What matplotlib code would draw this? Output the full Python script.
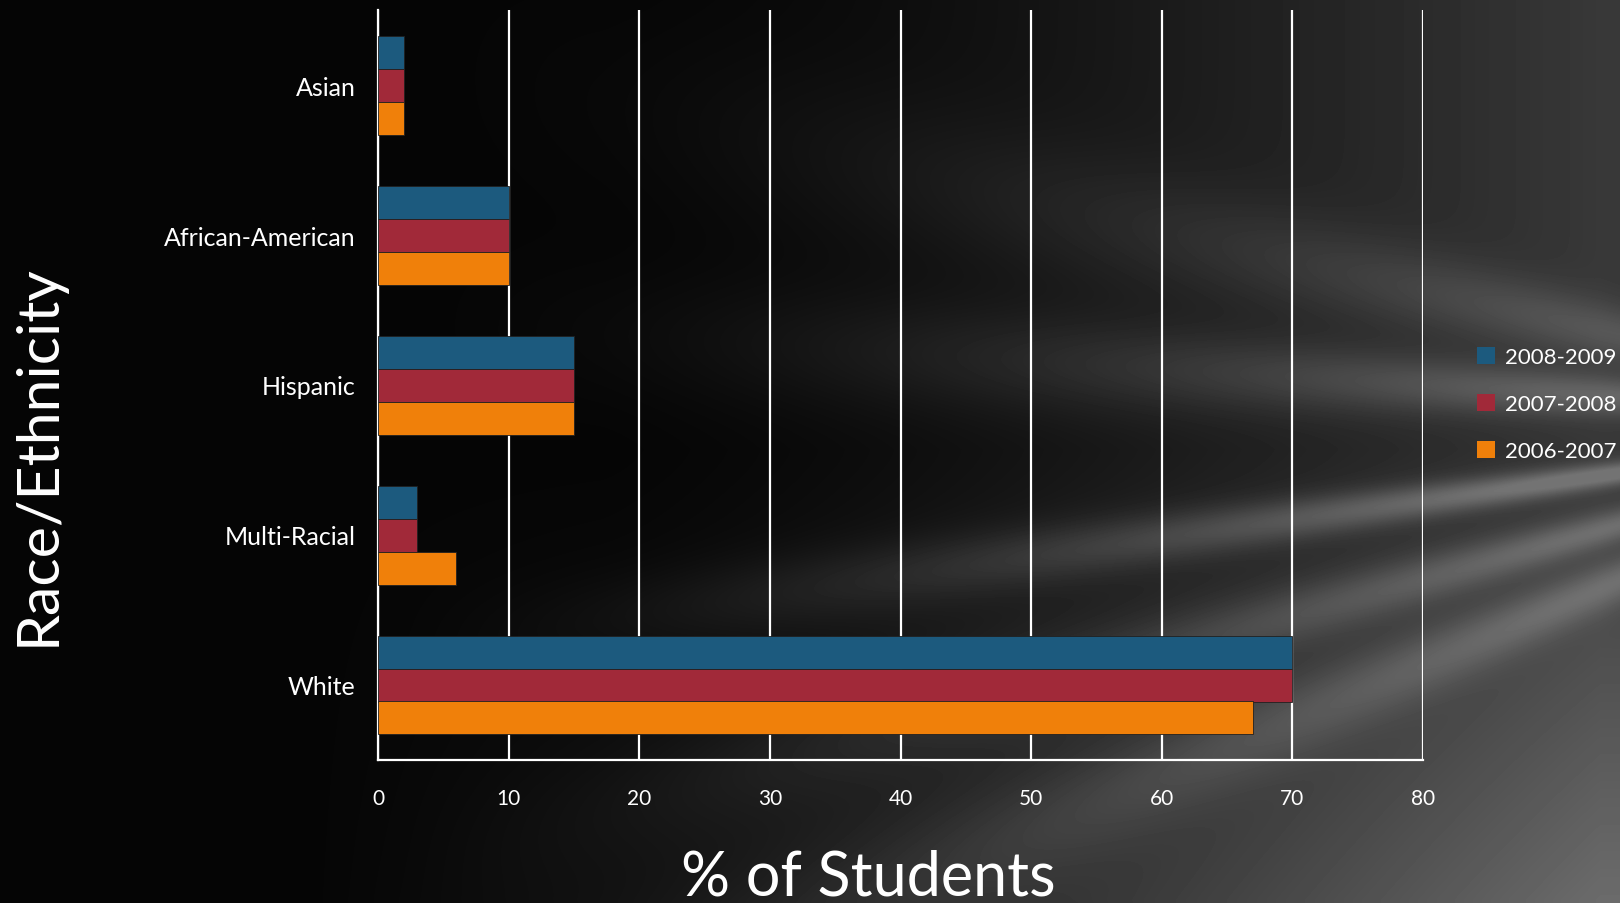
import numpy as np
import matplotlib
matplotlib.use("Agg")
import matplotlib.pyplot as plt

# data
categories = ["Asian", "African-American", "Hispanic", "Multi-Racial", "White"]
years = ["2008-2009", "2007-2008", "2006-2007"]
pct_2008_2009 = [2, 10, 15, 3, 70]
pct_2007_2008 = [2, 10, 15, 3, 70]
pct_2006_2007 = [2, 10, 15, 6, 67]
colors = ["#1c5a7e", "#a12939", "#f0800a"]
xticks = [0, 10, 20, 30, 40, 50, 60, 70, 80]

W, H = 1620, 904
fig = plt.figure(figsize=(W / 100, H / 100), dpi=100)

# dark background with light streaks fanning out from the right
yy, xx = np.mgrid[0:H, 0:W].astype(float)
base = np.clip((xx - 600) / 1000, 0, 1) ** 1.5 * 0.20 + np.clip((yy - 450) / 450, 0, 1) * np.clip((xx - 300) / 1300, 0, 1) * 0.20
fx, fy = 2000.0, 420.0
ang = np.arctan2(yy - fy, fx - xx)
fade = np.clip((xx - 400) / 1150, 0, 1) ** 1.3
streaks = (0.26 * np.exp(-((ang - 0.14) / 0.03) ** 2)
           + 0.18 * np.exp(-((ang + 0.06) / 0.05) ** 2)
           + 0.18 * np.exp(-((ang - 0.27) / 0.04) ** 2)
           + 0.16 * np.exp(-((ang - 0.40) / 0.05) ** 2)
           + 0.12 * np.exp(-((ang + 0.22) / 0.07) ** 2))
bg = np.clip(0.02 + base + streaks * fade, 0, 0.45)
bgax = fig.add_axes([0, 0, 1, 1], zorder=-1)
bgax.imshow(bg, cmap="gray", vmin=0, vmax=1, aspect="auto", interpolation="bilinear")
bgax.axis("off")

ax = fig.add_axes([378 / W, 1 - 761 / H, (1423 - 378) / W, (761 - 11) / H])
ax.set_facecolor("none")

y = np.arange(len(categories))
h = 0.22
for k, (vals, lab) in enumerate(zip([pct_2008_2009, pct_2007_2008, pct_2006_2007], years)):
    ax.barh(y + (k - 1) * h, vals, height=h, color=colors[k], edgecolor="#202020",
            linewidth=0.6, label=lab, zorder=3)

ax.set_xlim(0, 80)
ax.set_ylim(-0.5, len(categories) - 0.5)
ax.invert_yaxis()
ax.set_xticks(xticks)
ax.set_yticks(y)
ax.set_yticklabels(categories)
ax.xaxis.grid(True, color="white", linewidth=1.6, zorder=1)
ax.set_axisbelow(True)
for s in ["top", "right"]:
    ax.spines[s].set_visible(False)
for s in ["left", "bottom"]:
    ax.spines[s].set_color("white")
    ax.spines[s].set_linewidth(1.6)
ax.tick_params(axis="both", length=0, colors="white")
ax.tick_params(axis="x", pad=20, labelsize=15)
ax.tick_params(axis="y", pad=16, labelsize=18)
for t in ax.get_xticklabels() + ax.get_yticklabels():
    t.set_fontfamily("Lato")

fig.text(868 / W, 1 - 878 / H, "% of Students", color="white", fontsize=44,
         ha="center", va="center", family="Lato")
fig.text(38 / W, 1 - 455 / H, "Race/Ethnicity", color="white", fontsize=42.5,
         ha="center", va="center", rotation=90, family="Lato")

leg = fig.legend(loc="upper left", bbox_to_anchor=(1468 / W, 1 - 339 / H), frameon=False,
                 labelcolor="white", handlelength=0.8, handleheight=0.8,
                 handletextpad=0.45, labelspacing=1.2, borderaxespad=0,
                 prop={"family": "Lato", "size": 16})
for p in leg.get_patches():
    p.set_edgecolor("none")

fig.savefig("out.png", dpi=100)
